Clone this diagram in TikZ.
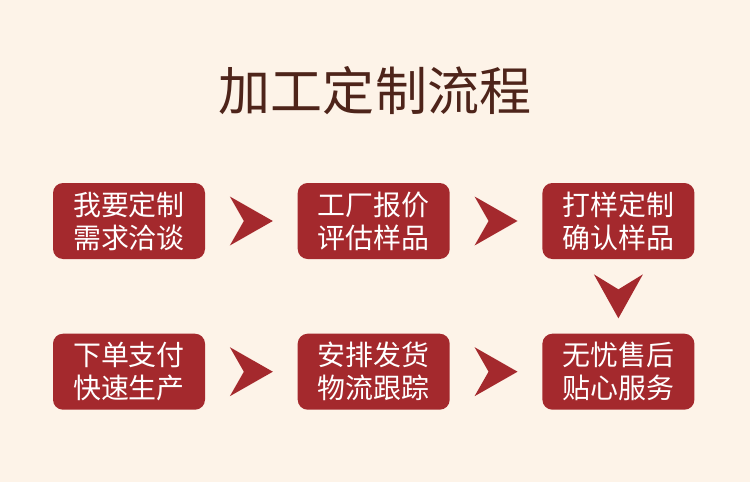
\documentclass[tikz,border=0pt]{standalone}
\usepackage{fontspec}
\newfontfamily\cjk{Noto Sans CJK SC}
\usepackage{tikz}
\usetikzlibrary{positioning, calc}
\definecolor{boxred}{RGB}{164,41,45}
\definecolor{titlebrown}{RGB}{78,36,26}
\definecolor{cream}{RGB}{253,243,232}

\begin{document}
\begin{tikzpicture}[
			stepbox/.style={rectangle, fill=boxred, rounded corners=0.2cm,
				minimum width=3.04cm, minimum height=1.52cm, inner sep=0pt,
				align=center, text=white, font=\cjk\fontsize{15.9}{18.8}\selectfont},
			heading/.style={font=\cjk\fontsize{29.6}{34}\selectfont, text=titlebrown},
			chevright/.pic={\fill[boxred] (-0.43,0.49) -- (0.43,0) -- (-0.43,-0.49) -- (-0.15,0) -- cycle;},
			chevdown/.pic={\fill[boxred] (-0.49,0.44) -- (0,0.14) -- (0.49,0.44) -- (0,-0.44) -- cycle;},
			]
			% Background
			\fill[cream] (0,0) rectangle (15,-9.64);
			\useasboundingbox (0,0) rectangle (15,-9.64);
			
			% Title
			\node[heading] (title) at (7.5,-1.82) {加工定制流程};
			
			% Blocks
			\node[stepbox] (s1) at (2.58,-4.42) {我要定制\\需求洽谈};
			\node[stepbox, right=1.84cm of s1] (s2) {工厂报价\\评估样品};
			\node[stepbox, right=1.84cm of s2] (s3) {打样定制\\确认样品};
			\node[stepbox, below=1.48cm of s1] (s4) {下单支付\\快速生产};
			\node[stepbox, right=1.84cm of s4] (s5) {安排发货\\物流跟踪};
			\node[stepbox, right=1.84cm of s5] (s6) {无忧售后\\贴心服务};
			
			% Arrows
			\pic at ($(s1.east)!.5!(s2.west)$) {chevright};
			\pic at ($(s2.east)!.5!(s3.west)$) {chevright};
			\pic at ($(s3.south)!.5!(s6.north)$) {chevdown};
			\pic at ($(s4.east)!.5!(s5.west)$) {chevright};
			\pic at ($(s5.east)!.5!(s6.west)$) {chevright};
		\end{tikzpicture}
\end{document}
